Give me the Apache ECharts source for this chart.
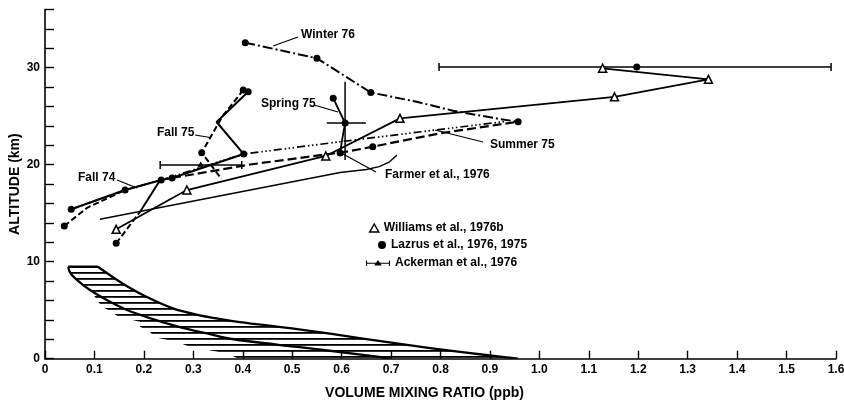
<!DOCTYPE html>
<html>
<head>
<meta charset="utf-8">
<title>Volume mixing ratio profiles</title>
<script src="https://cdn.jsdelivr.net/npm/echarts@6.0.0/dist/echarts.min.js"></script>
<style>
  html, body { margin: 0; padding: 0; background: #fff; }
  #chart { width: 844px; height: 404px; }
</style>
</head>
<body>
<div id="chart"></div>
<script>
// Every point is [volume mixing ratio (ppb), altitude (km)].

// Williams et al., 1976b (open triangles)
const williams = [[0.144, 13.34], [0.287, 17.39], [0.568, 20.9], [0.718, 24.78], [1.152, 27.0], [1.342, 28.8], [1.128, 29.94]];

// Lazrus et al. seasonal profiles
const winter76 = [[0.405, 32.58], [0.550, 30.97], [0.659, 27.44], [0.752, 26.49], [0.825, 25.57], [0.920, 24.71], [0.957, 24.43]];
const summer75 = [[0.257, 18.63], [0.415, 20.02], [0.610, 21.34], [0.663, 21.86], [0.799, 23.24], [0.957, 24.43]];
const fall74 = [[0.053, 15.40], [0.162, 17.39], [0.235, 18.42], [0.402, 21.10], [0.597, 22.37], [0.930, 24.45]];
const fall74Low = [[0.053, 15.40], [0.162, 17.39], [0.235, 18.42], [0.257, 18.63], [0.402, 21.10]];
const fall75 = [[0.401, 27.70], [0.358, 24.92], [0.317, 21.24], [0.357, 18.53]];
const fall75Upper = [[0.411, 27.53], [0.347, 24.40], [0.402, 21.10]];
const spring75 = [[0.583, 26.85], [0.607, 24.30], [0.601, 22.55], [0.597, 21.20]];
const lowDashed = [[0.039, 13.68], [0.085, 15.55], [0.162, 17.39]];
const lowRiseDashed = [[0.144, 11.90], [0.193, 15.20]];
const lowRiseSolid = [[0.193, 15.20], [0.233, 18.43]];
const lazrusDots = [
  [0.039, 13.68], [0.053, 15.40], [0.144, 11.90], [0.162, 17.39], [0.235, 18.42], [0.257, 18.63],
  [0.402, 21.10], [0.317, 21.24], [0.401, 27.70], [0.411, 27.53], [0.583, 26.85], [0.607, 24.30],
  [0.597, 21.20], [0.663, 21.86], [0.957, 24.43], [0.405, 32.58], [0.550, 30.97], [0.659, 27.44],
  [1.197, 30.07]
];

// Farmer et al., 1976
const farmer = [[0.111, 14.37], [0.597, 19.20], [0.650, 19.50], [0.676, 19.80], [0.697, 20.30], [0.712, 21.00]];

// Ackerman et al., 1976: [ratio, altitude, ratio low, ratio high, altitude low, altitude high]
const ackerman = [[0.315, 19.97, 0.233, 0.398, 19.97, 19.97], [0.607, 24.30, 0.570, 0.649, 20.48, 28.56]];
// range bar near 30 km
const range30 = [[1.197, 30.07, 0.797, 1.590, 30.07, 30.07]];

// Tropospheric band (hatched): boundaries from top to ground
const bandOuter = [[0.107, 9.48], [0.152, 7.91], [0.202, 6.46], [0.263, 5.12], [0.340, 4.20], [0.394, 3.78],
  [0.510, 3.06], [0.643, 2.08], [0.779, 1.10], [0.900, 0.33], [0.957, 0]];
const bandInner = [[0.047, 9.48], [0.051, 8.84], [0.065, 8.11], [0.091, 7.08], [0.125, 6.05], [0.166, 5.02],
  [0.212, 4.19], [0.273, 3.26], [0.328, 2.60], [0.378, 2.03], [0.510, 1.21], [0.597, 0.69], [0.672, 0.21], [0.698, 0]];
const bandHatchEdge = [[0.047, 9.48], [0.051, 8.84], [0.065, 8.11], [0.091, 7.08], [0.115, 5.36], [0.135, 4.85],
  [0.148, 4.33], [0.192, 3.81], [0.192, 3.30], [0.212, 2.78], [0.222, 2.21], [0.266, 1.75], [0.293, 1.24],
  [0.350, 0.72], [0.380, 0.28], [0.390, 0]];

// Axis ticks
const xMax = 1.6, xStep = 0.1;
const yMax = 36, yStep = 2, yLabelEvery = 10;

const FONT = "'Liberation Sans', Arial, Helvetica, sans-serif";
const INK = '#000';

// horizontal hatch pattern for the band
const hatch = document.createElement('canvas');
hatch.width = 8; hatch.height = 6;
(function () {
  const g = hatch.getContext('2d');
  g.fillStyle = INK;
  g.fillRect(0, 2, 8, 1.8);
})();

function renderBand(params, api) {
  const px = p => api.coord(p);
  const outer = bandOuter.map(px);
  const inner = bandInner.map(px);
  const edge = bandHatchEdge.map(px);
  const stroke = { stroke: INK, lineWidth: 2.3, fill: null };
  return {
    type: 'group',
    children: [
      { type: 'polygon', shape: { points: outer.concat(edge.slice().reverse()) },
        style: { fill: { image: hatch, repeat: 'repeat' }, stroke: null } },
      { type: 'polyline', shape: { points: outer, smooth: 0.3 }, style: stroke },
      { type: 'polyline', shape: { points: inner, smooth: 0.3 }, style: stroke },
      { type: 'line', shape: { x1: inner[0][0], y1: inner[0][1], x2: outer[0][0], y2: outer[0][1] }, style: stroke }
    ]
  };
}

function makeErrorBar(withMarker) {
  return function (params, api) {
    const v = api.value(0), a = api.value(1);
    const c = api.coord([v, a]);
    const lo = api.coord([api.value(2), a]);
    const hi = api.coord([api.value(3), a]);
    const bot = api.coord([v, api.value(4)]);
    const top = api.coord([v, api.value(5)]);
    const st = { stroke: INK, lineWidth: 1.5 };
    const kids = [{ type: 'line', shape: { x1: lo[0], y1: c[1], x2: hi[0], y2: c[1] }, style: st }];
    if (Math.abs(top[1] - bot[1]) > 0.5) {
      kids.push({ type: 'line', shape: { x1: c[0], y1: top[1], x2: c[0], y2: bot[1] }, style: st });
    } else {
      kids.push({ type: 'line', shape: { x1: lo[0], y1: c[1] - 4, x2: lo[0], y2: c[1] + 4 }, style: st });
      kids.push({ type: 'line', shape: { x1: hi[0], y1: c[1] - 4, x2: hi[0], y2: c[1] + 4 }, style: st });
    }
    if (withMarker) {
      kids.push({ type: 'polygon',
        shape: { points: [[c[0] - 3.5, c[1] + 2.5], [c[0] + 3.5, c[1] + 2.5], [c[0], c[1] - 3.5]] },
        style: { fill: INK } });
    }
    return { type: 'group', children: kids };
  };
}

function profile(data, type, width, extra) {
  return Object.assign({
    type: 'line', data: data, symbol: 'none', silent: true, z: 3,
    lineStyle: { color: INK, width: width, type: type, cap: 'butt', opacity: 1 },
    emphasis: { disabled: true }
  }, extra || {});
}

const chart = echarts.init(document.getElementById('chart'), null, { renderer: 'canvas' });

const textStyle = { fontFamily: FONT, fontWeight: 'bold', fontSize: 12, color: INK };

chart.setOption({
  animation: false,
  backgroundColor: '#fff',
  grid: { left: 45, right: 8, top: 9.5, bottom: 45.3, containLabel: false, outerBoundsMode: 'none' },
  xAxis: {
    type: 'value', min: 0, max: xMax, interval: xStep,
    name: 'VOLUME MIXING RATIO (ppb)', nameLocation: 'middle', nameGap: 27,
    nameTextStyle: { fontFamily: FONT, fontSize: 14, fontWeight: 'bold', color: INK, padding: [0, 32, 0, 0] },
    axisLine: { lineStyle: { color: INK, width: 1.6 } },
    axisTick: { inside: true, length: 8, lineStyle: { color: INK, width: 1.4 } },
    axisLabel: Object.assign({ margin: 5, formatter: v => (v === 0 ? '0' : (+v).toFixed(1)) }, textStyle),
    splitLine: { show: false }
  },
  yAxis: {
    type: 'value', min: 0, max: yMax, interval: yStep,
    name: 'ALTITUDE (km)', nameLocation: 'middle', nameGap: 23, nameRotate: 90, nameMoveOverlap: false,
    nameTextStyle: { fontFamily: FONT, fontSize: 14, fontWeight: 'bold', color: INK },
    axisLine: { lineStyle: { color: INK, width: 1.6 } },
    axisTick: { inside: true, length: 9, lineStyle: { color: INK, width: 1.4 } },
    axisLabel: Object.assign({ margin: 5, formatter: v => (v % yLabelEvery === 0 ? String(v) : '') }, textStyle),
    splitLine: { show: false }
  },
  legend: [
    { data: [{ name: 'Williams et al., 1976b', icon: 'triangle',
        itemStyle: { color: '#fff', borderColor: INK, borderWidth: 1.5 } }],
      left: 369, top: 222, padding: 0, itemWidth: 9, itemHeight: 8, selectedMode: false, textStyle: textStyle },
    { data: [{ name: 'Lazrus et al., 1976, 1975', icon: 'circle', itemStyle: { color: INK, opacity: 1 } }],
      left: 378, top: 239, padding: 0, itemWidth: 8, itemHeight: 8, selectedMode: false, textStyle: textStyle },
    { data: [{ name: 'Ackerman et al., 1976',
        icon: 'path://M0,1 L2,1 L2,11 L0,11 Z M42,1 L44,1 L44,11 L42,11 Z M0,5 L44,5 L44,7 L0,7 Z M15,10 L22,0 L29,10 Z' }],
      left: 366, top: 257, padding: 0, itemWidth: 24, itemHeight: 9, selectedMode: false, textStyle: textStyle }
  ],
  series: [
    { type: 'custom', name: 'band', data: [[0, 0]], renderItem: renderBand, silent: true, z: 2, clip: true,
      emphasis: { disabled: true } },
    profile(williams, 'solid', 1.8, {
      name: 'Williams et al., 1976b', symbol: 'triangle', symbolSize: 8, showSymbol: true, z: 5,
      itemStyle: { color: '#fff', borderColor: INK, borderWidth: 1.5, opacity: 1 }
    }),
    profile(winter76, [10, 3, 2, 3], 2),
    profile(summer75, [9, 4], 2.2),
    profile(fall74, [8, 3, 1.5, 2.5, 1.5, 2.5, 1.5, 3], 1.7),
    profile(fall74Low, 'solid', 2.2),
    profile(fall75, [6, 3], 2),
    profile(fall75Upper, 'solid', 2),
    profile(spring75, 'solid', 1.8),
    profile(lowDashed, [6, 3], 2),
    profile(lowRiseDashed, [6, 3], 2),
    profile(lowRiseSolid, 'solid', 2),
    profile(farmer, 'solid', 1.4),
    { type: 'scatter', name: 'Lazrus et al., 1976, 1975', data: lazrusDots, symbol: 'circle', symbolSize: 7,
      itemStyle: { color: INK, opacity: 1 }, z: 6, silent: true, emphasis: { disabled: true } },
    { type: 'custom', name: 'Ackerman et al., 1976', data: ackerman, renderItem: makeErrorBar(true),
      encode: { x: 0, y: 1 }, itemStyle: { color: INK }, z: 4, silent: true, emphasis: { disabled: true } },
    { type: 'custom', name: 'range', data: range30, renderItem: makeErrorBar(false),
      encode: { x: 0, y: 1 }, itemStyle: { color: INK }, z: 4, silent: true, emphasis: { disabled: true } }
  ],
  graphic: (function () {
    const font = 'bold 12px ' + FONT;
    const labels = [
      ['Winter 76', 301, 35], ['Spring 75', 261, 104], ['Fall 75', 157, 133], ['Fall 74', 78, 178],
      ['Summer 75', 490, 145], ['Farmer et al., 1976', 385, 175]
    ];
    const leaders = [
      [298, 37, 273, 46], [314, 105, 338, 112], [195, 135, 210, 137.5], [117, 180, 137, 188],
      [483, 142, 435, 130], [376, 172, 343, 154]
    ];
    const els = labels.map(l => ({
      type: 'text', x: l[1], y: l[2], silent: true,
      style: { text: l[0], font: font, fill: INK, verticalAlign: 'middle' }
    }));
    leaders.forEach(s => els.push({
      type: 'line', silent: true, shape: { x1: s[0], y1: s[1], x2: s[2], y2: s[3] },
      style: { stroke: INK, lineWidth: 1.2 }
    }));
    return els;
  })()
});
</script>
</body>
</html>
